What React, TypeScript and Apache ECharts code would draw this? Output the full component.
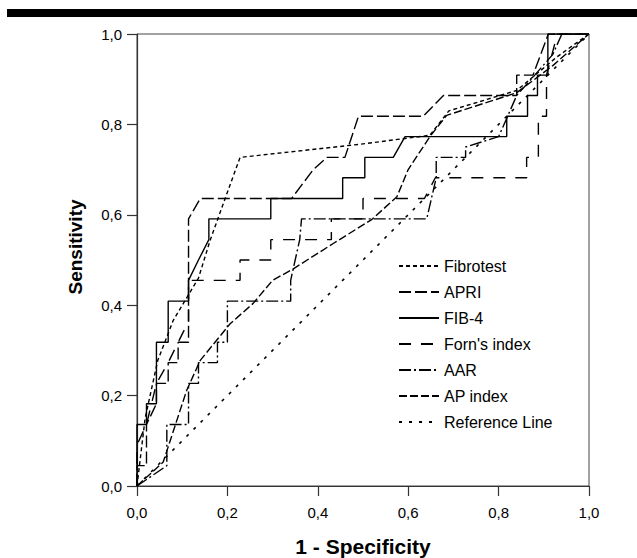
import React, { useEffect, useRef } from "react";
import * as echarts from "echarts";

const seriesNames = ["Fibrotest", "APRI", "FIB-4", "Forn's index", "AAR", "AP index", "Reference Line"];
const tickLabels = ["0,0", "0,2", "0,4", "0,6", "0,8", "1,0"];
const xTitle = "1 - Specificity";
const yTitle = "Sensitivity";

const fibrotestX = [0, 0.018, 0.046, 0.08, 0.136, 0.162, 0.191, 0.228, 0.493, 0.648, 0.69, 0.84, 0.93, 1];
const fibrotestY = [0, 0.15, 0.278, 0.366, 0.46, 0.544, 0.625, 0.727, 0.756, 0.776, 0.83, 0.875, 0.95, 1];

const apriX = [0, 0, 0.021, 0.021, 0.043, 0.043, 0.069, 0.069, 0.091, 0.091, 0.114, 0.114, 0.14, 0.342, 0.39, 0.42, 0.46, 0.49, 0.633, 0.678, 0.84, 0.84, 0.876, 0.91, 1];
const apriY = [0, 0.045, 0.045, 0.136, 0.182, 0.227, 0.227, 0.273, 0.273, 0.318, 0.318, 0.591, 0.636, 0.636, 0.7, 0.727, 0.727, 0.818, 0.818, 0.864, 0.864, 0.909, 0.909, 1, 1];

const fib4X = [0, 0, 0.021, 0.021, 0.043, 0.043, 0.069, 0.069, 0.114, 0.114, 0.136, 0.159, 0.159, 0.296, 0.296, 0.455, 0.455, 0.504, 0.504, 0.567, 0.593, 0.818, 0.818, 0.864, 0.864, 0.886, 0.886, 0.909, 0.909, 1];
const fib4Y = [0, 0.136, 0.136, 0.182, 0.182, 0.318, 0.318, 0.409, 0.409, 0.455, 0.5, 0.545, 0.591, 0.591, 0.636, 0.636, 0.682, 0.682, 0.727, 0.727, 0.773, 0.773, 0.818, 0.818, 0.864, 0.864, 0.909, 0.909, 1, 1];

const fornX = [0, 0, 0.021, 0.043, 0.069, 0.091, 0.114, 0.114, 0.228, 0.228, 0.296, 0.296, 0.43, 0.43, 0.5, 0.5, 0.636, 0.66, 0.862, 0.862, 0.888, 0.888, 0.906, 0.906, 0.93, 1];
const fornY = [0, 0.091, 0.136, 0.227, 0.273, 0.318, 0.364, 0.455, 0.455, 0.5, 0.5, 0.545, 0.545, 0.591, 0.591, 0.636, 0.636, 0.682, 0.682, 0.727, 0.727, 0.818, 0.818, 0.909, 1, 1];

const aarX = [0, 0.066, 0.066, 0.114, 0.114, 0.136, 0.136, 0.178, 0.178, 0.2, 0.2, 0.34, 0.34, 0.36, 0.364, 0.641, 0.662, 0.662, 0.727, 0.727, 0.8, 0.82, 0.84, 0.88, 0.92, 0.94, 1];
const aarY = [0, 0.045, 0.136, 0.136, 0.227, 0.227, 0.273, 0.273, 0.318, 0.318, 0.409, 0.409, 0.455, 0.545, 0.591, 0.591, 0.682, 0.727, 0.727, 0.75, 0.773, 0.818, 0.864, 0.909, 0.955, 1, 1];

const apIndexX = [0, 0.058, 0.11, 0.14, 0.206, 0.257, 0.3, 0.345, 0.435, 0.52, 0.575, 0.6, 0.648, 0.685, 0.84, 0.92, 1];
const apIndexY = [0, 0.053, 0.212, 0.278, 0.359, 0.404, 0.455, 0.48, 0.537, 0.59, 0.64, 0.7, 0.773, 0.82, 0.87, 0.93, 1];

const referenceX = [0, 1];
const referenceY = [0, 1];

const xs = [fibrotestX, apriX, fib4X, fornX, aarX, apIndexX, referenceX];
const ys = [fibrotestY, apriY, fib4Y, fornY, aarY, apIndexY, referenceY];

const dashes: any[] = [[4, 3], [12, 4], "solid", [12, 10], [12, 3, 2, 3], [8, 3], [3, 7]];

export default function App() {
  const ref = useRef<HTMLDivElement>(null);
  useEffect(() => {
    if (!ref.current) return;
    const chart = echarts.init(ref.current, undefined, { renderer: "svg" });
    const font = "Liberation Sans";
    const fmt = (v: number) => tickLabels[Math.round(v / 0.2)];
    chart.setOption({
      animation: false,
      backgroundColor: "#fff",
      textStyle: { fontFamily: font },
      graphic: [
        { type: "rect", shape: { x: 7, y: 9, width: 640, height: 8 }, style: { fill: "#000" } },
      ],
      grid: {
        left: 137, right: 48, top: 34, bottom: 72,
        outerBoundsMode: "none",
        containLabel: false,
        show: true, borderColor: "#444", borderWidth: 1, backgroundColor: "transparent",
      },
      xAxis: {
        type: "value", min: 0, max: 1, interval: 0.2,
        name: xTitle, nameLocation: "middle", nameGap: 50,
        nameTextStyle: { fontFamily: font, fontSize: 21, fontWeight: "bold", color: "#000" },
        axisLine: { show: true, onZero: false, lineStyle: { color: "#333", width: 1.2 } },
        axisTick: { show: true, inside: false, length: 10, lineStyle: { color: "#333", width: 1.2 } },
        axisLabel: { formatter: fmt, fontFamily: font, fontSize: 15, color: "#000", margin: 19 },
        splitLine: { show: false },
      },
      yAxis: {
        type: "value", min: 0, max: 1, interval: 0.2,
        name: yTitle, nameLocation: "middle", nameGap: 52,
        nameTextStyle: { fontFamily: font, fontSize: 19, fontWeight: "bold", color: "#000", padding: [0, 0, 0, 26] },
        axisLine: { show: true, onZero: false, lineStyle: { color: "#333", width: 1.2 } },
        axisTick: { show: true, inside: false, length: 10, lineStyle: { color: "#333", width: 1.2 } },
        axisLabel: { formatter: fmt, fontFamily: font, fontSize: 15, color: "#000", margin: 15 },
        splitLine: { show: false },
      },
      legend: {
        orient: "vertical", left: 398, top: 258, padding: 0,
        itemWidth: 40, itemHeight: 14, itemGap: 10,
        itemStyle: { opacity: 0, borderWidth: 0 },
        textStyle: { fontFamily: font, fontSize: 16, color: "#000", lineHeight: 16 },
        data: seriesNames,
      },
      series: seriesNames.map((name, i) => ({
        name,
        type: "line",
        data: xs[i].map((x, j) => [x, ys[i][j]]),
        symbol: "none",
        showSymbol: false,
        lineStyle: { color: "#000", width: i === 6 ? 1.6 : 1.4, type: dashes[i] },
        itemStyle: { color: "#000" },
        z: 10 - i,
      })),
    });
    return () => chart.dispose();
  }, []);
  return <div ref={ref} style={{ position: "absolute", left: 0, top: 0, width: 637, height: 558 }} />;
}
